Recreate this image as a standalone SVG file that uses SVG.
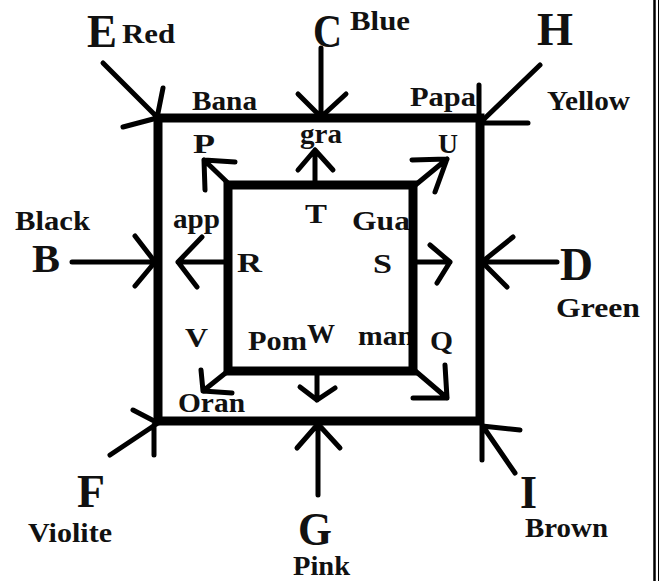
<svg xmlns="http://www.w3.org/2000/svg" width="659" height="581" viewBox="0 0 659 581">
<style>
.sq{fill:none;stroke:#000;stroke-width:9}
.ar{fill:none;stroke:#000;stroke-width:5;stroke-linecap:round;stroke-linejoin:round}
.lb{font-family:"Liberation Serif","Times New Roman",serif;font-weight:bold;font-size:27px;fill:#111}
.big{font-family:"Liberation Serif","Times New Roman",serif;font-weight:bold;font-size:46px;fill:#111}
.frame{stroke:#000;fill:none}
</style>
<rect width="659" height="581" fill="#fff"/>
<g id="frame">
<line class="frame" x1="654.5" y1="0" x2="654.5" y2="581" stroke-width="2.5"/>
<line class="frame" x1="658.5" y1="0" x2="658.5" y2="581" stroke-width="1"/>
</g>
<g id="node-E"><text class="big" x="87" y="47" textLength="30" lengthAdjust="spacingAndGlyphs">E</text><text class="lb" x="122" y="43" textLength="53" lengthAdjust="spacingAndGlyphs">Red</text></g>
<g id="node-C"><text class="big" x="313" y="47" textLength="29" lengthAdjust="spacingAndGlyphs">C</text><text class="lb" x="350" y="30" textLength="60" lengthAdjust="spacingAndGlyphs">Blue</text></g>
<g id="node-H"><text class="big" x="537" y="45" textLength="36" lengthAdjust="spacingAndGlyphs">H</text><text class="lb" x="547" y="110" textLength="83" lengthAdjust="spacingAndGlyphs">Yellow</text></g>
<g id="node-B"><text class="big" x="32" y="272" style="font-size:41px" textLength="28" lengthAdjust="spacingAndGlyphs">B</text><text class="lb" x="15" y="230" textLength="75" lengthAdjust="spacingAndGlyphs">Black</text></g>
<g id="node-D"><text class="big" x="560" y="280" textLength="33" lengthAdjust="spacingAndGlyphs">D</text><text class="lb" x="556" y="317" textLength="84" lengthAdjust="spacingAndGlyphs">Green</text></g>
<g id="node-F"><text class="big" x="77" y="507" textLength="28" lengthAdjust="spacingAndGlyphs">F</text><text class="lb" x="28" y="542" textLength="84" lengthAdjust="spacingAndGlyphs">Violite</text></g>
<g id="node-G"><text class="big" x="298" y="545" textLength="34" lengthAdjust="spacingAndGlyphs">G</text><text class="lb" x="293" y="575" textLength="57" lengthAdjust="spacingAndGlyphs">Pink</text></g>
<g id="node-I"><text class="big" x="520" y="508" textLength="17" lengthAdjust="spacingAndGlyphs">I</text><text class="lb" x="525" y="537" textLength="83" lengthAdjust="spacingAndGlyphs">Brown</text></g>
<g id="label-Bana"><text class="lb" x="192" y="110" textLength="65" lengthAdjust="spacingAndGlyphs">Bana</text></g>
<g id="label-Papa"><text class="lb" x="410" y="106" textLength="66" lengthAdjust="spacingAndGlyphs">Papa</text></g>
<g id="label-gra"><text class="lb" x="300" y="143" textLength="42" lengthAdjust="spacingAndGlyphs">gra</text></g>
<g id="label-P"><text class="lb" x="193" y="153" textLength="22" lengthAdjust="spacingAndGlyphs">P</text></g>
<g id="label-U"><text class="lb" x="438" y="153" textLength="20" lengthAdjust="spacingAndGlyphs">U</text></g>
<g id="label-T"><text class="lb" x="305" y="223" textLength="22" lengthAdjust="spacingAndGlyphs">T</text></g>
<g id="label-app"><text class="lb" x="173" y="228" textLength="47" lengthAdjust="spacingAndGlyphs">app</text></g>
<g id="label-R"><text class="lb" x="237" y="272" textLength="25" lengthAdjust="spacingAndGlyphs">R</text></g>
<g id="label-Gua"><text class="lb" x="352" y="230" textLength="58" lengthAdjust="spacingAndGlyphs">Gua</text></g>
<g id="label-S"><text class="lb" x="373" y="273" textLength="19" lengthAdjust="spacingAndGlyphs">S</text></g>
<g id="label-V"><text class="lb" x="185" y="347" textLength="23" lengthAdjust="spacingAndGlyphs">V</text></g>
<g id="label-Pom"><text class="lb" x="248" y="350" textLength="59" lengthAdjust="spacingAndGlyphs">Pom</text></g>
<g id="label-W"><text class="lb" x="307" y="343" textLength="28" lengthAdjust="spacingAndGlyphs">W</text></g>
<g id="label-man"><text class="lb" x="358" y="345" textLength="56" lengthAdjust="spacingAndGlyphs">man</text></g>
<g id="label-Q"><text class="lb" x="430" y="350" textLength="23" lengthAdjust="spacingAndGlyphs">Q</text></g>
<g id="label-Oran"><text class="lb" x="178" y="412" textLength="67" lengthAdjust="spacingAndGlyphs">Oran</text></g>
<g id="outer-square"><rect class="sq" x="158" y="118" width="322" height="303"/></g>
<g id="inner-square"><rect class="sq" x="228" y="185" width="185" height="186"/></g>
<g id="connectors">
<path class="ar" d="M103,63 L157,117 M163,88 L157,118 M123,127 L157,118"/>
<path class="ar" d="M321,48 L321,117 M298,94 L321,117 M346,94 L321,117"/>
<path class="ar" d="M540,65 L482,121 M479,85 L479,122 M528,123 L480,123"/>
<path class="ar" d="M72,262 L155,262 M135,236 L155,262 M135,286 L155,262"/>
<path class="ar" d="M557,262 L482,262 M513,237 L482,262 M507,287 L482,262"/>
<path class="ar" d="M110,455 L158,423 M133,410 L158,423 M154,455 L154,425"/>
<path class="ar" d="M318,495 L318,424 M297,448 L318,424 M340,448 L318,424"/>
<path class="ar" d="M515,473 L482,425 M520,430 L482,426 M482,460 L482,426"/>
<path class="ar" d="M228,262 L178,262 M202,237 L178,262 M197,287 L178,262"/>
<path class="ar" d="M413,262 L450,262 M430,245 L450,262 M437,283 L450,262"/>
<path class="ar" d="M315,185 L315,150 M298,170 L315,150 M333,170 L315,150"/>
<path class="ar" d="M317,371 L317,400 M300,387 L317,400 M335,388 L317,400"/>
<path class="ar" d="M229,184 L204,160 M235,162 L204,160 M205,190 L204,160"/>
<path class="ar" d="M413,187 L447,159 M412,160 L447,159 M435,192 L447,159"/>
<path class="ar" d="M228,371 L203,391 M201,370 L203,391 M232,393 L203,391"/>
<path class="ar" d="M413,369 L447,398 M445,365 L447,398 M413,398 L447,398"/>
</g>
</svg>
